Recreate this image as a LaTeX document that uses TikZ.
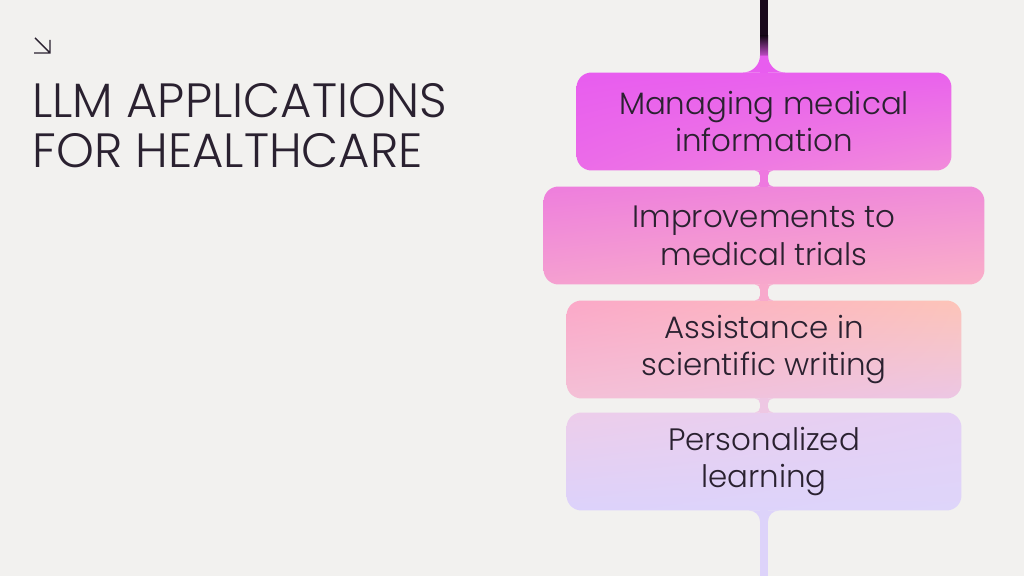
\documentclass[tikz,border=0pt]{standalone}
\usepackage{fontspec}
\usetikzlibrary{calc,shadings}
\IfFontExistsTF{Poppins Light}{\setmainfont{Poppins Light}}{\setmainfont{Poppins}}

\definecolor{bgcol}{HTML}{F2F1EF}
\definecolor{inkcol}{HTML}{2A2130}
\definecolor{topdark}{HTML}{1A0A1C}
\definecolor{mgA}{HTML}{E85DEF}
\definecolor{neckA}{HTML}{EE78E0}
\definecolor{neckB}{HTML}{F8A9CC}
\definecolor{neckC}{HTML}{EEC7E3}
\definecolor{lilac}{HTML}{DDD3FA}

% fillet where a connector meets a box: point, direction, radius, colour
\newcommand{\flare}[4]{%
  \fill[#4] ($(#1)+(-4-#3,0)$) .. controls ($(#1)+(-4-0.45*#3,0)$) and ($(#1)+(-4,#2*0.45*#3)$) .. ($(#1)+(-4,#2*#3)$)
    -- ($(#1)+(4,#2*#3)$) .. controls ($(#1)+(4,#2*0.45*#3)$) and ($(#1)+(4+0.45*#3,0)$) .. ($(#1)+(4+#3,0)$) -- cycle;}

\begin{document}
\begin{tikzpicture}[
    x=0.02cm, y=-0.02cm,
    box/.style={rectangle, rounded corners=0.3cm, minimum height=1.96cm, outer sep=0pt,
      text=inkcol, align=center, font=\fontsize{17.6}{21.5}\selectfont},
    link/.style={line width=0.16cm}
]

% Background
\fill[bgcol] (0,0) rectangle (1024,576);

% Title
\draw[inkcol, line width=0.8pt] (35,38) -- (50,53) (34,53) -- (50,53) -- (50,40);
\node[anchor=north west, inner sep=0pt, align=left, text=inkcol,
  font=\fontsize{27.4}{28.4}\selectfont] (title) at (32,83)
  {LLM APPLICATIONS\\FOR HEALTHCARE};

% Steps
\node[box, minimum width=7.5cm, upper left=mgA, upper right=mgA!95!pink,
  lower left=mgA!85!pink, lower right={rgb,255:red,242;green,140;blue,218}] (m1) at (764,121.5)
  {Managing medical\\information};
\node[box, minimum width=8.82cm, upper left={rgb,255:red,238;green,126;blue,221},
  upper right={rgb,255:red,240;green,140;blue,216}, lower left={rgb,255:red,245;green,160;blue,208},
  lower right={rgb,255:red,250;green,176;blue,200}] (m2) at (764,235.5)
  {Improvements to\\medical trials};
\node[box, minimum width=7.9cm, upper left={rgb,255:red,251;green,168;blue,200},
  upper right={rgb,255:red,253;green,196;blue,184}, lower left={rgb,255:red,244;green,192;blue,214},
  lower right={rgb,255:red,236;green,198;blue,228}] (m3) at (764,349.5)
  {Assistance in\\scientific writing};
\node[box, minimum width=7.9cm, upper left={rgb,255:red,237;green,205;blue,234},
  upper right={rgb,255:red,228;green,208;blue,245}, lower left={rgb,255:red,220;green,210;blue,251},
  lower right={rgb,255:red,222;green,213;blue,250}] (m4) at (764,461.5)
  {Personalized\\learning};

% Line ends
\coordinate (top) at (764,0);
\coordinate (bot) at (764,576);

% Connectors
\fill[topdark] ($(top)+(-4,0)$) rectangle ($(top)+(4,36)$);
\shade[top color=topdark, bottom color=mgA] ($(top)+(-4,36)$) rectangle ($(m1.north)+(4,-12)$);
\fill[mgA] ($(m1.north)+(-4,-12)$) rectangle ($(m1.north)+(4,0)$);
\flare{m1.north}{-1}{17}{mgA}
\draw[link, neckA] (m1) -- (m2);
\flare{m1.south}{1}{5}{neckA}
\flare{m2.north}{-1}{5}{neckA}
\draw[link, neckB] (m2) -- (m3);
\flare{m2.south}{1}{5}{neckB}
\flare{m3.north}{-1}{5}{neckB}
\draw[link, neckC] (m3) -- (m4);
\flare{m3.south}{1}{5}{neckC}
\flare{m4.north}{-1}{5}{neckC}
\draw[link, lilac] (m4) -- (bot);
\flare{m4.south}{1}{11}{lilac}

\end{tikzpicture}
\end{document}
